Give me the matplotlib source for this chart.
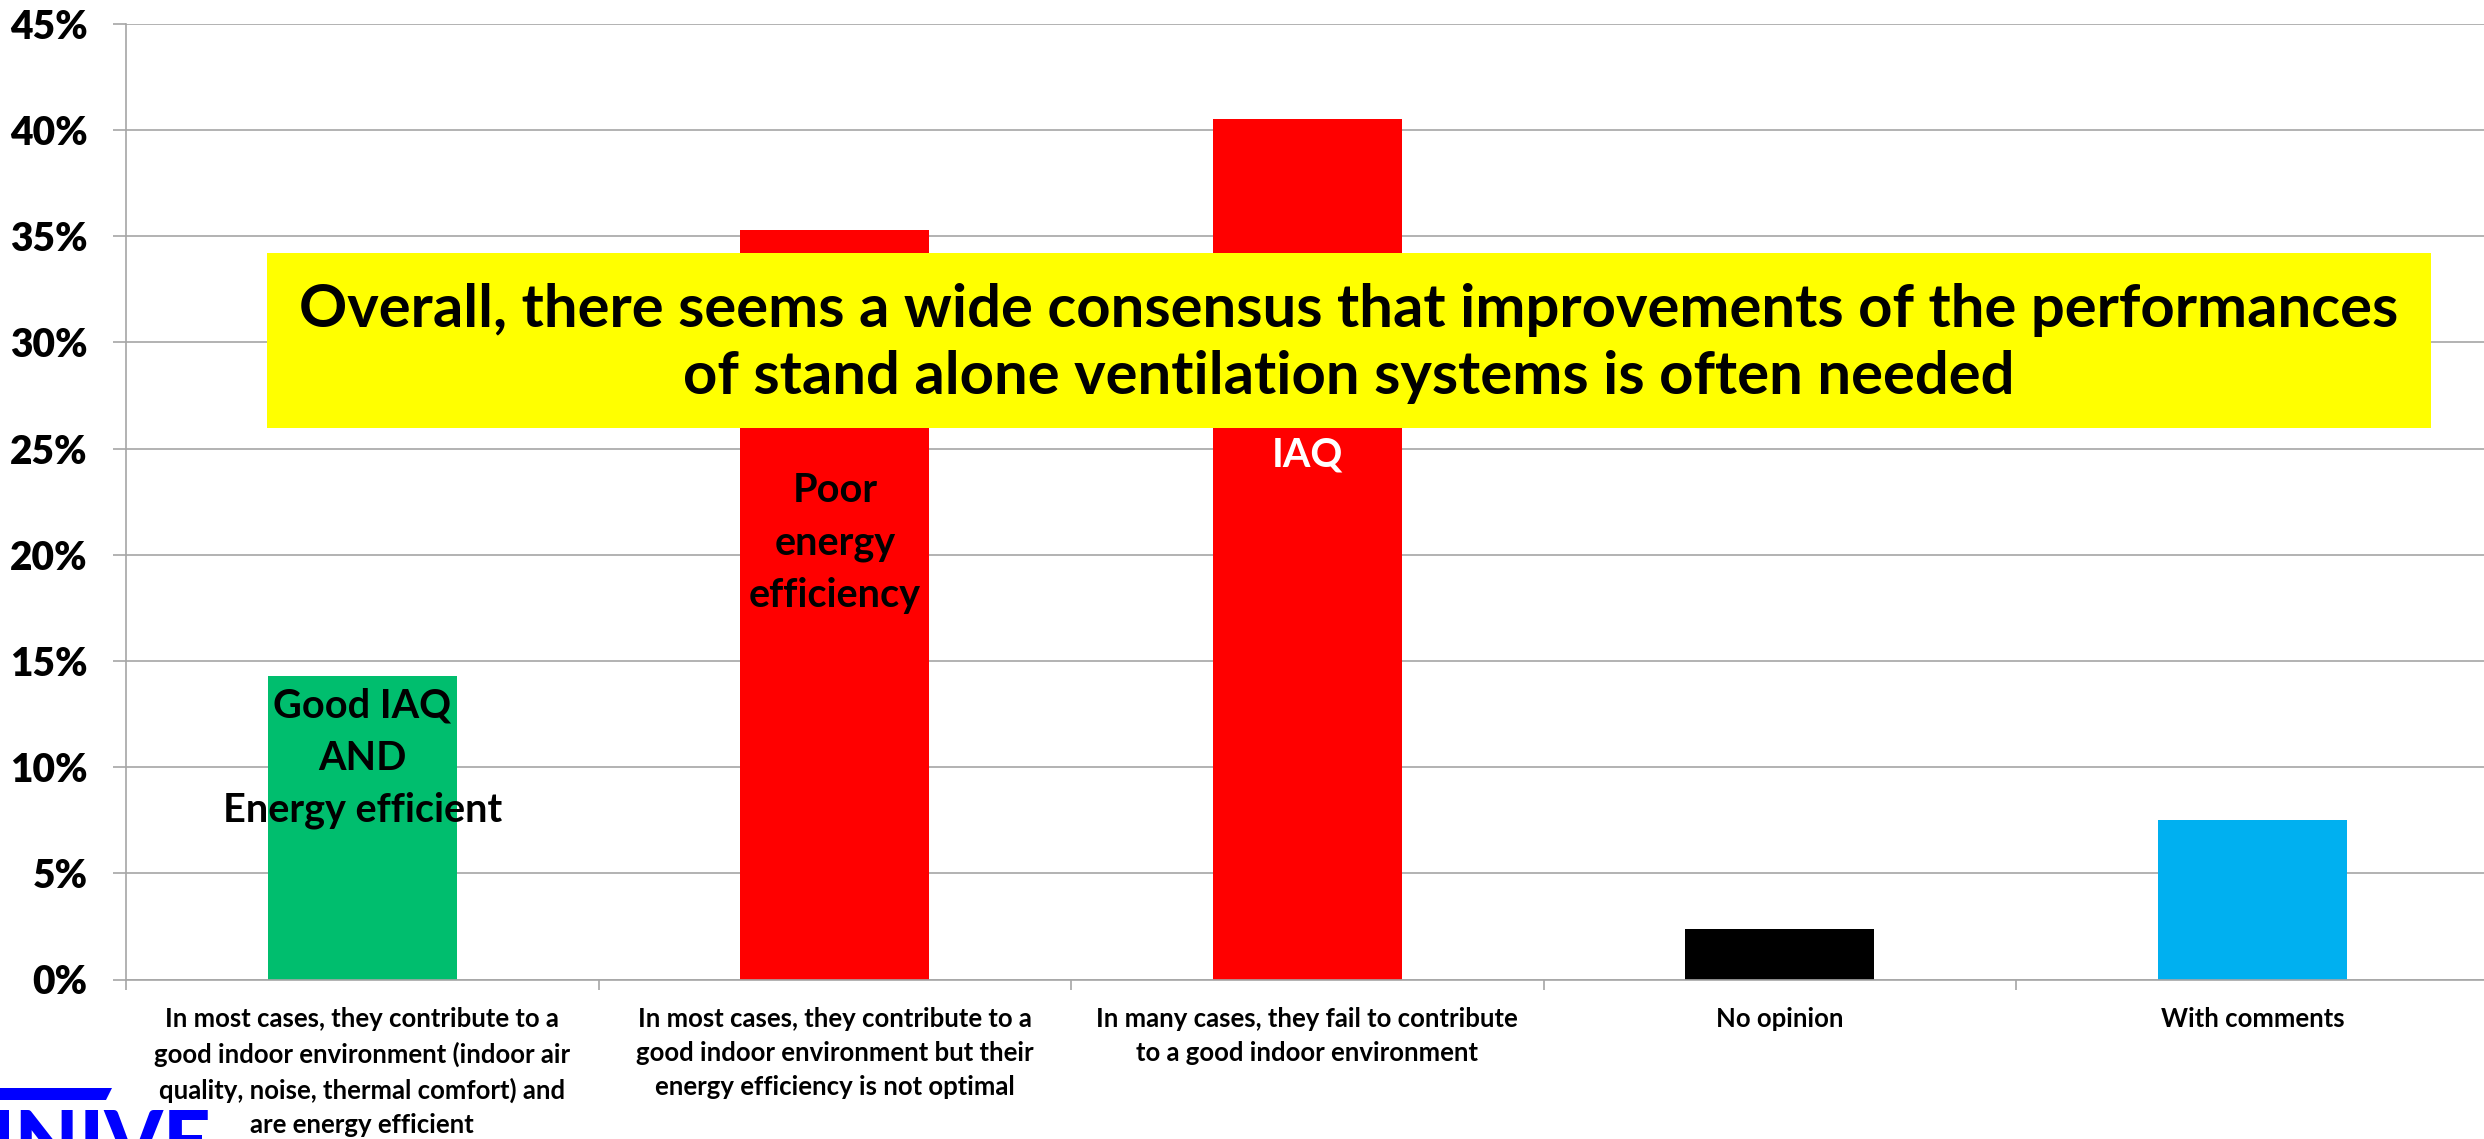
import matplotlib
matplotlib.use("Agg")
import matplotlib.pyplot as plt
from matplotlib.patches import Rectangle, Polygon
from matplotlib.ticker import PercentFormatter

plt.rcParams['font.family'] = ['Lato', 'DejaVu Sans']

categories = [
    "In most cases, they contribute to a\ngood indoor environment (indoor air\nquality, noise, thermal comfort) and\nare energy efficient",
    "In most cases, they contribute to a\ngood indoor environment but their\nenergy efficiency is not optimal",
    "In many cases, they fail to contribute\nto a good indoor environment",
    "No opinion",
    "With comments",
]
shares = [0.143, 0.353, 0.405, 0.024, 0.075]
bar_colors = ['#00BE6E', '#FF0000', '#FF0000', '#000000', '#00B0F0']

# text written inside bars
bar_notes = ["Good IAQ\nAND\nEnergy efficient", "Poor\nenergy\nefficiency", "IAQ"]
note_y = [0.104, 0.2055, 0.247]
note_colors = ['black', 'black', 'white']

message = ("Overall, there seems a wide consensus that improvements of the performances\n"
           "of stand alone ventilation systems is often needed")

W, H = 2484, 1139
fig = plt.figure(figsize=(W / 100, H / 100), dpi=100)
ax = fig.add_axes([126 / W, 159.5 / H, (W - 126) / W, 955.8 / H])

x = range(len(categories))
ax.bar(x, shares, width=0.4, color=bar_colors, zorder=2)

ax.set_xlim(-0.5, 4.49)
ax.set_ylim(0, 0.45)
ax.set_yticks([i * 0.05 for i in range(10)])
ax.yaxis.set_major_formatter(PercentFormatter(1.0, decimals=0))
ax.grid(axis='y', color='#A6A6A6', linewidth=1.2, zorder=0)
ax.set_axisbelow(True)

for s in ['top', 'right']:
    ax.spines[s].set_visible(False)
ax.spines['left'].set_color('#A6A6A6')
ax.spines['bottom'].set_color('#A6A6A6')
ax.spines['left'].set_linewidth(1.2)
ax.spines['bottom'].set_linewidth(1.2)

ax.tick_params(axis='y', direction='out', length=9.5, width=1.2, color='#A6A6A6',
               pad=18, labelsize=28)
for lab in ax.get_yticklabels():
    lab.set_fontweight('heavy')

ax.set_xticks(list(x))
ax.set_xticklabels(categories, fontsize=18.5, fontweight='bold', linespacing=1.5, va='top')
ax.tick_params(axis='x', which='major', length=0, pad=20)
ax.set_xticks([-0.5, 0.5, 1.5, 2.5, 3.5], minor=True)
ax.tick_params(axis='x', which='minor', direction='out', length=7, width=1.2, color='#A6A6A6')

for i, (txt, yy, c) in enumerate(zip(bar_notes, note_y, note_colors)):
    ax.text(i, yy, txt, ha='center', va='center', fontsize=28.5, fontweight='bold',
            color=c, linespacing=1.5, zorder=3)

# yellow message box
fig.add_artist(Rectangle((267 / W, (H - 428) / H), (2431 - 267) / W, 175 / H,
                         transform=fig.transFigure, facecolor='#FFFF00', edgecolor='none', zorder=5))
fig.text(1349 / W, (H - 343.5) / H, message, ha='center', va='center', fontsize=43,
         fontweight='bold', linespacing=1.3, zorder=6)

# partial logo at bottom left
fig.add_artist(Polygon([(0, (H - 1088) / H), (112 / W, (H - 1088) / H),
                        (106 / W, (H - 1100) / H), (0, (H - 1100) / H)],
                       closed=True, transform=fig.transFigure, facecolor='#0000FF',
                       edgecolor='none', zorder=5))
fig.text(-10 / W, (H - 1108) / H, "INIVE", ha='left', va='top', fontsize=60,
         fontweight='black', color='#0000FF', zorder=6)

fig.savefig('out.png', dpi=100)
